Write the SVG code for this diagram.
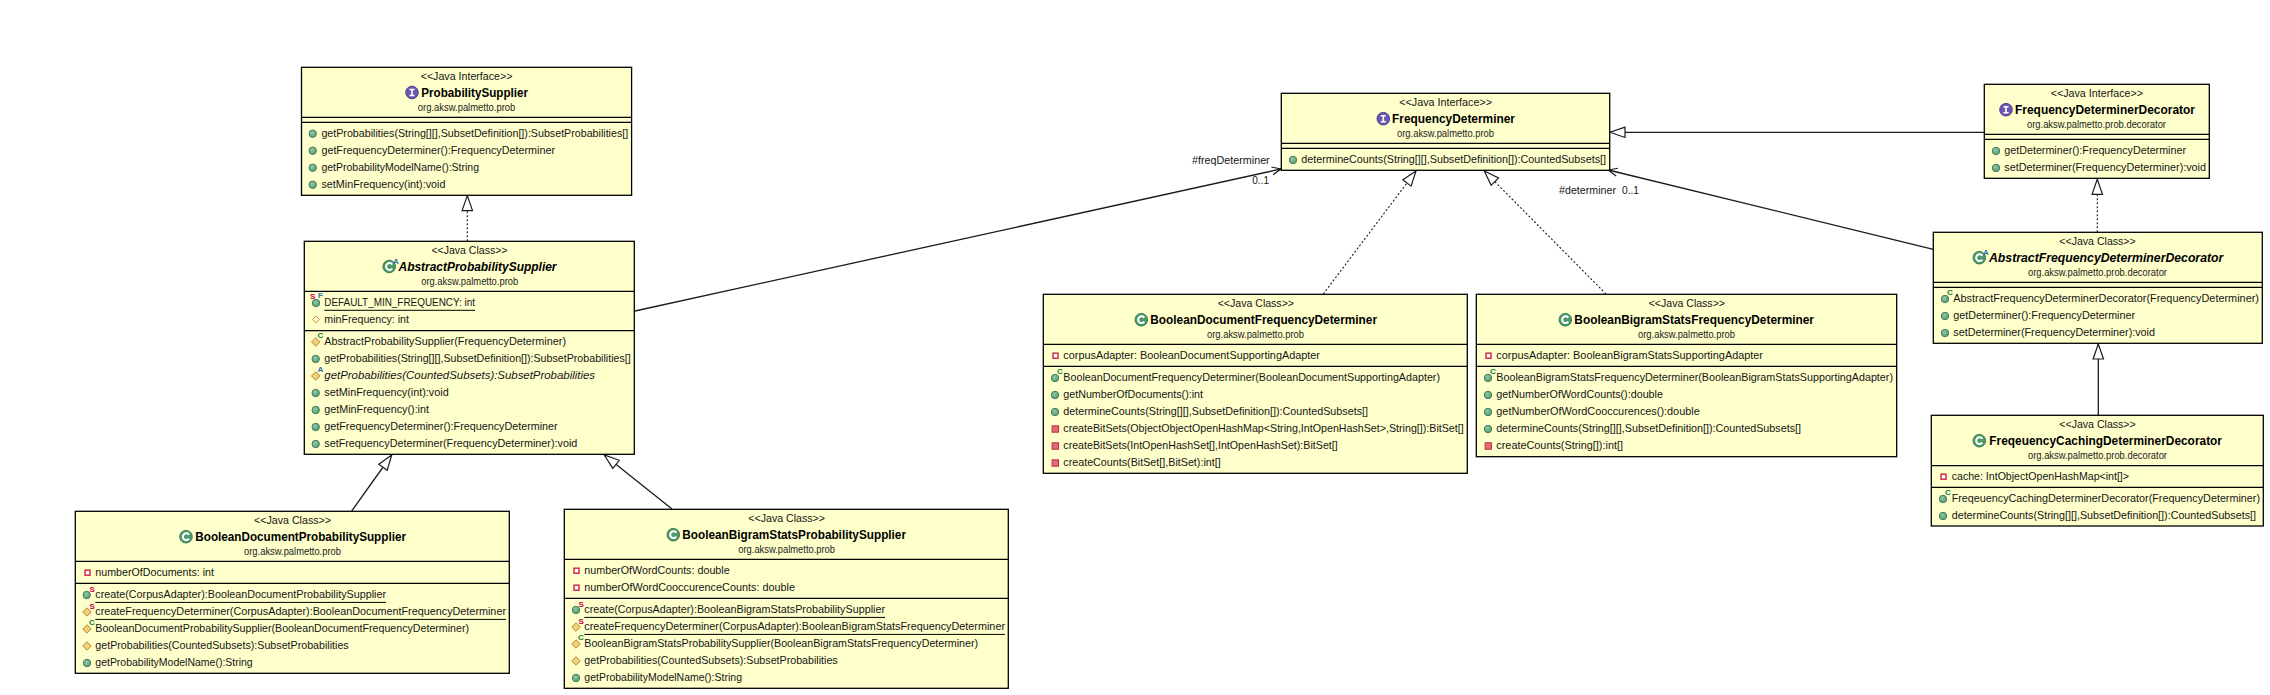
<svg xmlns="http://www.w3.org/2000/svg" width="2270" height="695" viewBox="0 0 2270 695">
<style>
text{font-family:"Liberation Sans",Arial,sans-serif;font-size:11px;fill:#151515}
.n{font-size:12.5px;font-weight:bold;fill:#000}
.p{font-size:10px;fill:#222}
.i{font-style:italic}
.sup{font-size:8px;font-weight:bold}
.ss{fill:#c8004f}.sc{fill:#0a7a3a}.sa{fill:#2a6fb0}.sf{fill:#2a6fb0}
.box{fill:#ffffcb;stroke:#000;stroke-width:1.3}
.sep{stroke:#000;stroke-width:1.2;fill:none}
.ul{stroke:#000;stroke-width:1;fill:none}
.c{fill:none;stroke:#1a1a1a;stroke-width:1.3}
.d{stroke-dasharray:2 2;stroke-width:1.1}
</style>
<defs>
<radialGradient id="gg" cx=".4" cy=".35" r=".8"><stop offset="0" stop-color="#8fc9a4"/><stop offset="1" stop-color="#4f9168"/></radialGradient>
<g id="pub"><circle r="3.7" fill="url(#gg)" stroke="#3f7f5f" stroke-width="1"/></g>
<g id="def"><path d="M0-4.2 4.2 0 0 4.2-4.2 0Z" fill="#f2cf7a" stroke="#b58a2a" stroke-width="1"/></g>
<g id="prot"><path d="M0-3.4 3.4 0 0 3.4-3.4 0Z" fill="#fff6cf" stroke="#c49a30" stroke-width="1"/></g>
<g id="pf"><rect x="-2.5" y="-2.5" width="5" height="5" fill="#fff" stroke="#cc2f4f" stroke-width="1.5"/></g>
<g id="pm"><rect x="-3.2" y="-3.2" width="6.4" height="6.4" fill="#e0697a" stroke="#c02f3f" stroke-width="1"/></g>
<g id="cls"><circle r="6.3" fill="#4f9a6c" stroke="#3a7f55" stroke-width="1"/><path d="M3-2A3.4 3.4 0 1 0 3 2" fill="none" stroke="#fff" stroke-width="2"/></g>
<g id="ifc"><circle r="6.3" fill="#6a58b0" stroke="#4f4090" stroke-width="1"/><path d="M-2.5-3H2.5M0-3V3M-2.5 3H2.5" fill="none" stroke="#fff" stroke-width="1.6"/></g>
<marker id="tri" markerUnits="userSpaceOnUse" markerWidth="17" markerHeight="13" viewBox="0 0 17 13" refX="16" refY="6.5" orient="auto"><path d="M16 6.5 1 1.3V11.7Z" fill="#fff" stroke="#1a1a1a" stroke-width="1.2"/></marker>
<marker id="vee" markerUnits="userSpaceOnUse" markerWidth="12" markerHeight="12" viewBox="0 0 12 12" refX="11" refY="6" orient="auto"><path d="M2 2 11 6 2 10" fill="none" stroke="#1a1a1a" stroke-width="1.2"/></marker>
</defs>
<rect width="2270" height="695" fill="#fff"/>

<g id="connectors">
<path class="c d" d="M467.3 241.3V195.6" marker-end="url(#tri)"/>
<path class="c" d="M635 311 1281 169" marker-end="url(#vee)"/>
<path class="c" d="M351.7 511 391.7 455" marker-end="url(#tri)"/>
<path class="c" d="M672 509 604.3 455" marker-end="url(#tri)"/>
<path class="c d" d="M1323.3 294 1416 171" marker-end="url(#tri)"/>
<path class="c d" d="M1606 294 1484.3 171" marker-end="url(#tri)"/>
<path class="c" d="M1984.3 132.3H1610" marker-end="url(#tri)"/>
<path class="c" d="M1933.3 249.3 1608.3 170" marker-end="url(#vee)"/>
<path class="c d" d="M2097.3 232.3V179.3" marker-end="url(#tri)"/>
<path class="c" d="M2098.3 415.3V344" marker-end="url(#tri)"/>
<text x="1192" y="164" textLength="77.7" lengthAdjust="spacingAndGlyphs">#freqDeterminer</text>
<text x="1252.3" y="184" textLength="16.7" lengthAdjust="spacingAndGlyphs">0..1</text>
<text x="1559" y="193.5" textLength="57" lengthAdjust="spacingAndGlyphs">#determiner</text>
<text x="1622" y="193.5" textLength="17" lengthAdjust="spacingAndGlyphs">0..1</text>
</g>

<g id="ProbabilitySupplier">
<rect class="box" x="301.5" y="67.3" width="330.1" height="128"/>
<path class="sep" d="M301.5 117.3H631.6M301.5 122.3H631.6"/>
<text x="420.7" y="80" textLength="91.7" lengthAdjust="spacingAndGlyphs">&lt;&lt;Java Interface&gt;&gt;</text>
<use href="#ifc" x="412" y="92.5"/>
<text class="n" x="421.3" y="97" textLength="106.7" lengthAdjust="spacingAndGlyphs">ProbabilitySupplier</text>
<text class="p" x="417.8" y="111" textLength="97.5" lengthAdjust="spacingAndGlyphs">org.aksw.palmetto.prob</text>
<use href="#pub" x="312.7" y="133.7"/><text x="321.4" y="137" textLength="306.8" lengthAdjust="spacingAndGlyphs">getProbabilities(String[][],SubsetDefinition[]):SubsetProbabilities[]</text>
<use href="#pub" x="312.7" y="150.7"/><text x="321.4" y="154" textLength="233.6" lengthAdjust="spacingAndGlyphs">getFrequencyDeterminer():FrequencyDeterminer</text>
<use href="#pub" x="312.7" y="167.7"/><text x="321.4" y="171" textLength="157.6" lengthAdjust="spacingAndGlyphs">getProbabilityModelName():String</text>
<use href="#pub" x="312.7" y="184.7"/><text x="321.4" y="188" textLength="124.1" lengthAdjust="spacingAndGlyphs">setMinFrequency(int):void</text>
</g>

<g id="AbstractProbabilitySupplier">
<rect class="box" x="304.3" y="241.3" width="330" height="213"/>
<path class="sep" d="M304.3 291.3H634.3M304.3 330.7H634.3"/>
<text x="431.4" y="254" textLength="76.1" lengthAdjust="spacingAndGlyphs">&lt;&lt;Java Class&gt;&gt;</text>
<use href="#cls" x="389.2" y="266.5"/><text class="sup sa" x="393" y="264">A</text>
<text class="n i" x="398.5" y="271" textLength="158" lengthAdjust="spacingAndGlyphs">AbstractProbabilitySupplier</text>
<text class="p" x="421.2" y="285" textLength="97" lengthAdjust="spacingAndGlyphs">org.aksw.palmetto.prob</text>
<use href="#pub" x="316" y="303"/><text class="sup ss" x="310" y="299">S</text><text class="sup sf" x="318" y="298">F</text>
<text x="324.3" y="306" textLength="150.7" lengthAdjust="spacingAndGlyphs">DEFAULT_MIN_FREQUENCY: int</text><path class="ul" d="M324.3 310.3H475"/>
<use href="#prot" x="316" y="319.5"/><text x="324.3" y="323" textLength="84.7" lengthAdjust="spacingAndGlyphs">minFrequency: int</text>
<use href="#def" x="315.7" y="342"/><text class="sup sc" x="317.5" y="338">C</text><text x="324.3" y="345.3" textLength="241.7" lengthAdjust="spacingAndGlyphs">AbstractProbabilitySupplier(FrequencyDeterminer)</text>
<use href="#pub" x="315.7" y="359"/><text x="324.3" y="362.3" textLength="306.4" lengthAdjust="spacingAndGlyphs">getProbabilities(String[][],SubsetDefinition[]):SubsetProbabilities[]</text>
<use href="#def" x="315.7" y="376"/><text class="sup sa" x="317.5" y="372">A</text><text class="i" x="324.3" y="379.3" textLength="270.7" lengthAdjust="spacingAndGlyphs">getProbabilities(CountedSubsets):SubsetProbabilities</text>
<use href="#pub" x="315.7" y="393"/><text x="324.3" y="396.3" textLength="124.4" lengthAdjust="spacingAndGlyphs">setMinFrequency(int):void</text>
<use href="#pub" x="315.7" y="410"/><text x="324.3" y="413.3" textLength="104.7" lengthAdjust="spacingAndGlyphs">getMinFrequency():int</text>
<use href="#pub" x="315.7" y="427"/><text x="324.3" y="430.3" textLength="233.4" lengthAdjust="spacingAndGlyphs">getFrequencyDeterminer():FrequencyDeterminer</text>
<use href="#pub" x="315.7" y="444"/><text x="324.3" y="447.3" textLength="253" lengthAdjust="spacingAndGlyphs">setFrequencyDeterminer(FrequencyDeterminer):void</text>
</g>

<g id="BooleanDocumentProbabilitySupplier">
<rect class="box" x="75.3" y="511.3" width="434" height="162"/>
<path class="sep" d="M75.3 561.3H509.3M75.3 583.3H509.3"/>
<text x="254" y="524" textLength="77" lengthAdjust="spacingAndGlyphs">&lt;&lt;Java Class&gt;&gt;</text>
<use href="#cls" x="186" y="536.7"/>
<text class="n" x="195.3" y="541" textLength="210.7" lengthAdjust="spacingAndGlyphs">BooleanDocumentProbabilitySupplier</text>
<text class="p" x="244" y="555" textLength="97" lengthAdjust="spacingAndGlyphs">org.aksw.palmetto.prob</text>
<use href="#pf" x="87.5" y="572.7"/><text x="95.3" y="576.3" textLength="118.7" lengthAdjust="spacingAndGlyphs">numberOfDocuments: int</text>
<use href="#pub" x="86.7" y="595"/><text class="sup ss" x="89.5" y="592">S</text><text x="95.3" y="598.3" textLength="290.7" lengthAdjust="spacingAndGlyphs">create(CorpusAdapter):BooleanDocumentProbabilitySupplier</text><path class="ul" d="M95.3 602.4H386"/>
<use href="#def" x="87" y="612"/><text class="sup ss" x="89.5" y="609">S</text><text x="95.3" y="615.3" textLength="410.7" lengthAdjust="spacingAndGlyphs">createFrequencyDeterminer(CorpusAdapter):BooleanDocumentFrequencyDeterminer</text><path class="ul" d="M95.3 619.4H506"/>
<use href="#def" x="87" y="629"/><text class="sup sc" x="89" y="625">C</text><text x="95.3" y="632.3" textLength="373.7" lengthAdjust="spacingAndGlyphs">BooleanDocumentProbabilitySupplier(BooleanDocumentFrequencyDeterminer)</text>
<use href="#def" x="87" y="646"/><text x="95.3" y="649.3" textLength="253.4" lengthAdjust="spacingAndGlyphs">getProbabilities(CountedSubsets):SubsetProbabilities</text>
<use href="#pub" x="87" y="663"/><text x="95.3" y="666.3" textLength="157.4" lengthAdjust="spacingAndGlyphs">getProbabilityModelName():String</text>
</g>

<g id="BooleanBigramStatsProbabilitySupplier">
<rect class="box" x="564.3" y="509.3" width="444" height="179"/>
<path class="sep" d="M564.3 559.3H1008.3M564.3 598.3H1008.3"/>
<text x="748.3" y="522" textLength="76.7" lengthAdjust="spacingAndGlyphs">&lt;&lt;Java Class&gt;&gt;</text>
<use href="#cls" x="673.3" y="534.7"/>
<text class="n" x="682.3" y="539" textLength="223.7" lengthAdjust="spacingAndGlyphs">BooleanBigramStatsProbabilitySupplier</text>
<text class="p" x="738.3" y="553" textLength="96.7" lengthAdjust="spacingAndGlyphs">org.aksw.palmetto.prob</text>
<use href="#pf" x="576.5" y="570.7"/><text x="584.3" y="574.2" textLength="145.4" lengthAdjust="spacingAndGlyphs">numberOfWordCounts: double</text>
<use href="#pf" x="576.5" y="587.7"/><text x="584.3" y="591.2" textLength="210.7" lengthAdjust="spacingAndGlyphs">numberOfWordCooccurenceCounts: double</text>
<use href="#pub" x="576" y="610"/><text class="sup ss" x="578.5" y="607">S</text><text x="584.3" y="613.3" textLength="300.7" lengthAdjust="spacingAndGlyphs">create(CorpusAdapter):BooleanBigramStatsProbabilitySupplier</text><path class="ul" d="M584.3 617.4H885"/>
<use href="#def" x="576" y="627"/><text class="sup ss" x="578.5" y="624">S</text><text x="584.3" y="630.3" textLength="420.7" lengthAdjust="spacingAndGlyphs">createFrequencyDeterminer(CorpusAdapter):BooleanBigramStatsFrequencyDeterminer</text><path class="ul" d="M584.3 634.4H1005"/>
<use href="#def" x="576" y="644"/><text class="sup sc" x="578" y="640">C</text><text x="584.3" y="647.3" textLength="393.7" lengthAdjust="spacingAndGlyphs">BooleanBigramStatsProbabilitySupplier(BooleanBigramStatsFrequencyDeterminer)</text>
<use href="#def" x="576" y="661"/><text x="584.3" y="664.3" textLength="253.4" lengthAdjust="spacingAndGlyphs">getProbabilities(CountedSubsets):SubsetProbabilities</text>
<use href="#pub" x="576" y="678"/><text x="584.3" y="681.3" textLength="157.7" lengthAdjust="spacingAndGlyphs">getProbabilityModelName():String</text>
</g>

<g id="FrequencyDeterminer">
<rect class="box" x="1281.3" y="93.3" width="328.4" height="77"/>
<path class="sep" d="M1281.3 143.3H1609.7M1281.3 148.3H1609.7"/>
<text x="1399.3" y="106" textLength="92.7" lengthAdjust="spacingAndGlyphs">&lt;&lt;Java Interface&gt;&gt;</text>
<use href="#ifc" x="1383.3" y="118.7"/>
<text class="n" x="1392" y="123" textLength="123" lengthAdjust="spacingAndGlyphs">FrequencyDeterminer</text>
<text class="p" x="1397" y="137" textLength="97" lengthAdjust="spacingAndGlyphs">org.aksw.palmetto.prob</text>
<use href="#pub" x="1293" y="160"/><text x="1301.3" y="163.3" textLength="304.7" lengthAdjust="spacingAndGlyphs">determineCounts(String[][],SubsetDefinition[]):CountedSubsets[]</text>
</g>

<g id="BooleanDocumentFrequencyDeterminer">
<rect class="box" x="1043.3" y="294.3" width="424" height="179"/>
<path class="sep" d="M1043.3 344.3H1467.3M1043.3 366.3H1467.3"/>
<text x="1217.7" y="307" textLength="76.3" lengthAdjust="spacingAndGlyphs">&lt;&lt;Java Class&gt;&gt;</text>
<use href="#cls" x="1141.3" y="319.7"/>
<text class="n" x="1150.3" y="324" textLength="226.7" lengthAdjust="spacingAndGlyphs">BooleanDocumentFrequencyDeterminer</text>
<text class="p" x="1207" y="338" textLength="97" lengthAdjust="spacingAndGlyphs">org.aksw.palmetto.prob</text>
<use href="#pf" x="1055.5" y="355.7"/><text x="1063.3" y="359.3" textLength="256.7" lengthAdjust="spacingAndGlyphs">corpusAdapter: BooleanDocumentSupportingAdapter</text>
<use href="#pub" x="1055" y="378"/><text class="sup sc" x="1057" y="374">C</text><text x="1063.3" y="381.3" textLength="376.7" lengthAdjust="spacingAndGlyphs">BooleanDocumentFrequencyDeterminer(BooleanDocumentSupportingAdapter)</text>
<use href="#pub" x="1055" y="395"/><text x="1063.3" y="398.3" textLength="139.7" lengthAdjust="spacingAndGlyphs">getNumberOfDocuments():int</text>
<use href="#pub" x="1055" y="412"/><text x="1063.3" y="415.3" textLength="304.7" lengthAdjust="spacingAndGlyphs">determineCounts(String[][],SubsetDefinition[]):CountedSubsets[]</text>
<use href="#pm" x="1055.3" y="429"/><text x="1063.3" y="432.3" textLength="400.4" lengthAdjust="spacingAndGlyphs">createBitSets(ObjectObjectOpenHashMap&lt;String,IntOpenHashSet&gt;,String[]):BitSet[]</text>
<use href="#pm" x="1055.3" y="446"/><text x="1063.3" y="449.3" textLength="274.4" lengthAdjust="spacingAndGlyphs">createBitSets(IntOpenHashSet[],IntOpenHashSet):BitSet[]</text>
<use href="#pm" x="1055.3" y="463"/><text x="1063.3" y="466.3" textLength="157.4" lengthAdjust="spacingAndGlyphs">createCounts(BitSet[],BitSet):int[]</text>
</g>

<g id="BooleanBigramStatsFrequencyDeterminer">
<rect class="box" x="1476.3" y="294.3" width="420.4" height="162.4"/>
<path class="sep" d="M1476.3 344.3H1896.7M1476.3 366.3H1896.7"/>
<text x="1648.7" y="307" textLength="76.3" lengthAdjust="spacingAndGlyphs">&lt;&lt;Java Class&gt;&gt;</text>
<use href="#cls" x="1565.3" y="319.7"/>
<text class="n" x="1574.3" y="324" textLength="239.7" lengthAdjust="spacingAndGlyphs">BooleanBigramStatsFrequencyDeterminer</text>
<text class="p" x="1638" y="338" textLength="97" lengthAdjust="spacingAndGlyphs">org.aksw.palmetto.prob</text>
<use href="#pf" x="1488.5" y="355.7"/><text x="1496.3" y="359.3" textLength="266.7" lengthAdjust="spacingAndGlyphs">corpusAdapter: BooleanBigramStatsSupportingAdapter</text>
<use href="#pub" x="1488" y="378"/><text class="sup sc" x="1490" y="374">C</text><text x="1496.3" y="381.3" textLength="396.7" lengthAdjust="spacingAndGlyphs">BooleanBigramStatsFrequencyDeterminer(BooleanBigramStatsSupportingAdapter)</text>
<use href="#pub" x="1488" y="395"/><text x="1496.3" y="398.3" textLength="166.7" lengthAdjust="spacingAndGlyphs">getNumberOfWordCounts():double</text>
<use href="#pub" x="1488" y="412"/><text x="1496.3" y="415.3" textLength="203.4" lengthAdjust="spacingAndGlyphs">getNumberOfWordCooccurences():double</text>
<use href="#pub" x="1488" y="429"/><text x="1496.3" y="432.3" textLength="304.7" lengthAdjust="spacingAndGlyphs">determineCounts(String[][],SubsetDefinition[]):CountedSubsets[]</text>
<use href="#pm" x="1488.3" y="446"/><text x="1496.3" y="449.3" textLength="126.7" lengthAdjust="spacingAndGlyphs">createCounts(String[]):int[]</text>
</g>

<g id="FrequencyDeterminerDecorator">
<rect class="box" x="1984.3" y="84.3" width="225" height="94"/>
<path class="sep" d="M1984.3 134.3H2209.3M1984.3 139.3H2209.3"/>
<text x="2050.7" y="97" textLength="92.3" lengthAdjust="spacingAndGlyphs">&lt;&lt;Java Interface&gt;&gt;</text>
<use href="#ifc" x="2006" y="109.7"/>
<text class="n" x="2015" y="114" textLength="180" lengthAdjust="spacingAndGlyphs">FrequencyDeterminerDecorator</text>
<text class="p" x="2027" y="128" textLength="139" lengthAdjust="spacingAndGlyphs">org.aksw.palmetto.prob.decorator</text>
<use href="#pub" x="1996" y="151"/><text x="2004.3" y="154.3" textLength="181.7" lengthAdjust="spacingAndGlyphs">getDeterminer():FrequencyDeterminer</text>
<use href="#pub" x="1996" y="168"/><text x="2004.3" y="171.3" textLength="201.7" lengthAdjust="spacingAndGlyphs">setDeterminer(FrequencyDeterminer):void</text>
</g>

<g id="AbstractFrequencyDeterminerDecorator">
<rect class="box" x="1933.3" y="232.3" width="329" height="111"/>
<path class="sep" d="M1933.3 282.3H2262.3M1933.3 287.3H2262.3"/>
<text x="2059.3" y="245" textLength="76.4" lengthAdjust="spacingAndGlyphs">&lt;&lt;Java Class&gt;&gt;</text>
<use href="#cls" x="1979.3" y="257.7"/><text class="sup sa" x="1983" y="255">A</text>
<text class="n i" x="1989" y="262" textLength="234.3" lengthAdjust="spacingAndGlyphs">AbstractFrequencyDeterminerDecorator</text>
<text class="p" x="2028" y="276" textLength="139" lengthAdjust="spacingAndGlyphs">org.aksw.palmetto.prob.decorator</text>
<use href="#pub" x="1945" y="299"/><text class="sup sc" x="1947" y="295">C</text><text x="1953.3" y="302.3" textLength="305.7" lengthAdjust="spacingAndGlyphs">AbstractFrequencyDeterminerDecorator(FrequencyDeterminer)</text>
<use href="#pub" x="1945" y="316"/><text x="1953.3" y="319.3" textLength="181.7" lengthAdjust="spacingAndGlyphs">getDeterminer():FrequencyDeterminer</text>
<use href="#pub" x="1945" y="333"/><text x="1953.3" y="336.3" textLength="201.7" lengthAdjust="spacingAndGlyphs">setDeterminer(FrequencyDeterminer):void</text>
</g>

<g id="FreqeuencyCachingDeterminerDecorator">
<rect class="box" x="1931.3" y="415.3" width="332" height="110.7"/>
<path class="sep" d="M1931.3 465.7H2263.3M1931.3 487.3H2263.3"/>
<text x="2059.3" y="428" textLength="76.4" lengthAdjust="spacingAndGlyphs">&lt;&lt;Java Class&gt;&gt;</text>
<use href="#cls" x="1979.3" y="440.7"/>
<text class="n" x="1989.3" y="445" textLength="232.7" lengthAdjust="spacingAndGlyphs">FreqeuencyCachingDeterminerDecorator</text>
<text class="p" x="2028" y="459" textLength="139" lengthAdjust="spacingAndGlyphs">org.aksw.palmetto.prob.decorator</text>
<use href="#pf" x="1943.5" y="476.7"/><text x="1951.7" y="480.3" textLength="177.3" lengthAdjust="spacingAndGlyphs">cache: IntObjectOpenHashMap&lt;int[]&gt;</text>
<use href="#pub" x="1943" y="499"/><text class="sup sc" x="1945" y="495">C</text><text x="1951.7" y="502.3" textLength="308.3" lengthAdjust="spacingAndGlyphs">FreqeuencyCachingDeterminerDecorator(FrequencyDeterminer)</text>
<use href="#pub" x="1943" y="516"/><text x="1951.7" y="519.3" textLength="304.3" lengthAdjust="spacingAndGlyphs">determineCounts(String[][],SubsetDefinition[]):CountedSubsets[]</text>
</g>
</svg>
